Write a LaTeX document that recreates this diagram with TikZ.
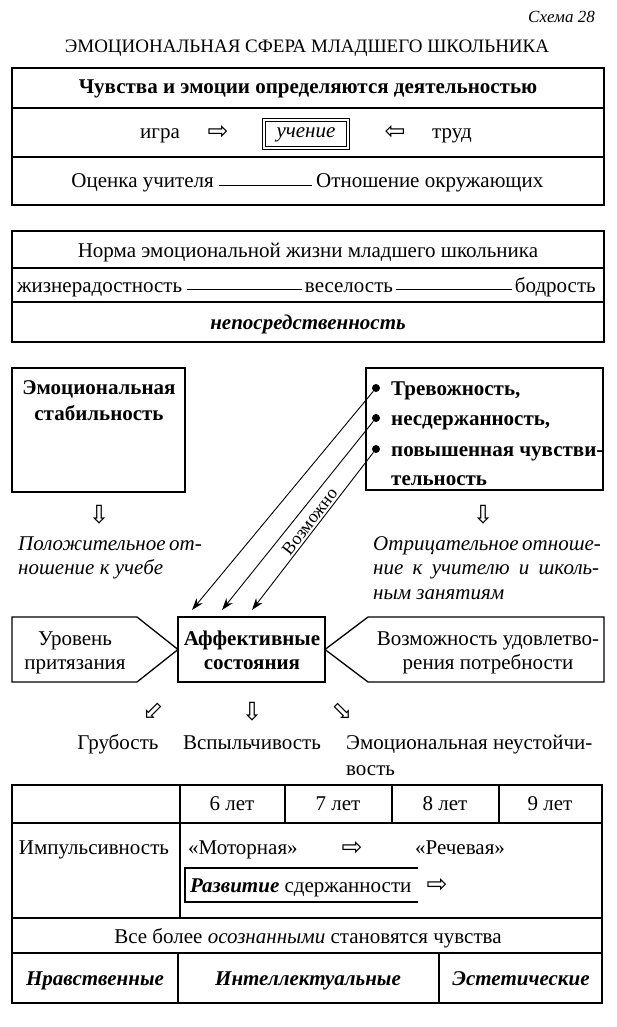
\documentclass[tikz,border=0pt]{standalone}
\usepackage{fontspec}
\setmainfont{Liberation Serif}
\newfontfamily\symfont{DejaVu Sans}
\usetikzlibrary{arrows.meta}
\begin{document}
\begin{tikzpicture}[x=1pt,y=-1pt,
  t/.style={inner sep=0pt, font=\fontsize{21}{24}\selectfont},
  tb/.style={inner sep=0pt, font=\fontsize{21}{24}\selectfont\bfseries},
  tbi/.style={inner sep=0pt, font=\fontsize{21}{24}\selectfont\bfseries\itshape},
  ti/.style={inner sep=0pt, font=\fontsize{21}{24}\selectfont\itshape},
  sym/.style={inner sep=0pt, font=\fontsize{25}{25}\symfont},
  frame/.style={draw, line width=1.3pt},
  rule/.style={line width=0.9pt},
  dot/.style={circle, fill, inner sep=0pt, minimum size=8pt},
  conn/.style={line width=0.9pt, -{Stealth[length=12pt,width=8pt]}}
]
\path[use as bounding box] (0,0) rectangle (617,1027);

% header
\node[anchor=base east, inner sep=0pt, font=\fontsize{17}{17}\selectfont\itshape] (scheme) at (595,23) {Схема 28};
\node[anchor=base, inner sep=0pt, font=\fontsize{19}{20}\selectfont] (title) at (307,53) {ЭМОЦИОНАЛЬНАЯ СФЕРА МЛАДШЕГО ШКОЛЬНИКА};

% box 1
\draw[frame] (12,68) rectangle (604,205);
\draw[frame] (12,108) -- (604,108);
\draw[frame] (12,157) -- (604,157);
\node[tb, anchor=base] (feel) at (308,94) {Чувства и эмоции определяются деятельностью};
\node[t, anchor=base] (igra) at (160,139) {игра};
\node[sym] (ar1) at (218,132) {⇨};
\node[ti, draw, double, double distance=2pt, line width=0.8pt, minimum width=84pt, minimum height=28pt, text height=11pt, text depth=3pt] (uch) at (306,134) {учение};
\node[sym] (ar2) at (395,132) {⇦};
\node[t, anchor=base] (trud) at (452,139) {труд};
\node[t, anchor=base east] (ocen) at (214,188) {Оценка учителя};
\node[t, anchor=base west] (otn) at (316,188) {Отношение окружающих};
\draw[rule] ([xshift=5pt]ocen.mid east) -- ([xshift=-4pt]otn.mid west);

% box 2
\draw[frame] (12,231) rectangle (604,342);
\draw[frame] (12,268) -- (604,268);
\draw[frame] (12,302) -- (604,302);
\node[t, anchor=base] (norma) at (308,257) {Норма эмоциональной жизни младшего школьника};
\node[t, anchor=base west] (zhiz) at (17,292) {жизнерадостность};
\node[t, anchor=base] (vesel) at (349,292) {веселость};
\node[t, anchor=base east] (bodr) at (596,292) {бодрость};
\draw[rule] ([xshift=5pt]zhiz.mid east) -- ([xshift=-3pt]vesel.mid west);
\draw[rule] ([xshift=3pt]vesel.mid east) -- ([xshift=-3pt]bodr.mid west);
\node[tbi, anchor=base] (nepo) at (308,329) {непосредственность};

% left / right boxes
\draw[frame] (12,368) rectangle (185,492);
\node[tb, anchor=base] (emo1) at (99,394) {Эмоциональная};
\node[tb, anchor=base] (emo2) at (99,420) {стабильность};

\draw[frame] (366,368) rectangle (603,490);
\node[dot] (b1) at (376,388) {};
\node[dot] (b2) at (376,418) {};
\node[dot] (b3) at (376,449) {};
\node[tb, anchor=base west] (tr1) at (391,395) {Тревожность,};
\node[tb, anchor=base west] (tr2) at (391,425) {несдержанность,};
\node[tb, anchor=base west] (tr3) at (391,456) {повышенная чувстви-};
\node[tb, anchor=base west] (tr4) at (391,485) {тельность};

\node[sym] (d1) at (99,515) {⇩};
\node[sym] (d2) at (483,515) {⇩};

\node[ti, anchor=base west] (pol1) at (18,550) {\makebox[143pt][s]{Положительное от-}};
\node[ti, anchor=base west] (pol2) at (18,574) {ношение к учебе};
\node[ti, anchor=base west] (otr1) at (373,550) {\makebox[226pt][s]{Отрицательное отноше-}};
\node[ti, anchor=base west] (otr2) at (373,574) {\makebox[226pt][s]{ние к учителю и школь-}};
\node[ti, anchor=base west] (otr3) at (373,599) {ным занятиям};

% connectors
\coordinate (t1) at (192,610);
\coordinate (t2) at (222,610);
\coordinate (t3) at (252,610);
\draw[conn] (b1) -- (t1);
\draw[conn] (b2) -- (t2);
\draw[conn] (b3) -- node[sloped, above, pos=0.47, inner sep=2pt, font=\fontsize{18}{18}\selectfont] (voz) {Возможно} (t3);

% affective row
\draw[frame] (12,617) -- (137,617) -- (178,649.5) -- (137,682) -- (12,682) -- cycle;
\draw[frame] (178,617) rectangle (325,682);
\draw[frame] (325,649.5) -- (368,617) -- (604,617) -- (604,682) -- (368,682) -- cycle;
\node[t, anchor=base] (ur1) at (75,645) {Уровень};
\node[t, anchor=base] (ur2) at (75,669) {притязания};
\node[tb, anchor=base] (af1) at (252,645) {Аффективные};
\node[tb, anchor=base] (af2) at (252,669) {состояния};
\node[t, anchor=base] (vz1) at (488,645) {Возможность удовлетво-};
\node[t, anchor=base] (vz2) at (488,669) {рения потребности};

\node[sym, rotate=-45] (s1) at (153,712) {⇩};
\node[sym] (s2) at (252,712) {⇩};
\node[sym, rotate=45] (s3) at (343,712) {⇩};
\node[t, anchor=base] (grub) at (118,749) {Грубость};
\node[t, anchor=base] (vsp) at (252,749) {Вспыльчивость};
\node[t, anchor=base west] (emn1) at (346,749) {Эмоциональная неустойчи-};
\node[t, anchor=base west] (emn2) at (346,775) {вость};

% table
\draw[frame] (12,785) rectangle (602,1003);
\draw[frame] (12,823) -- (602,823);
\draw[frame] (12,918) -- (602,918);
\draw[frame] (12,953) -- (602,953);
\draw[frame] (180,785) -- (180,918);
\draw[frame] (285,785) -- (285,823);
\draw[frame] (392,785) -- (392,823);
\draw[frame] (499,785) -- (499,823);
\draw[frame] (178,953) -- (178,1003);
\draw[frame] (439,953) -- (439,1003);
\node[t, anchor=base] (y6) at (232,810) {6 лет};
\node[t, anchor=base] (y7) at (338,810) {7 лет};
\node[t, anchor=base] (y8) at (445,810) {8 лет};
\node[t, anchor=base] (y9) at (550,810) {9 лет};
\node[t, anchor=base] (imp) at (94,854) {Импульсивность};
\node[t, anchor=base west] (mot) at (188,854) {«Моторная»};
\node[sym] (ar3) at (352,848) {⇨};
\node[t, anchor=base west] (rech) at (415,854) {«Речевая»};
\draw[line width=1.6pt] (418,868) -- (185,868) -- (185,902) -- (418,902);
\node[t, anchor=base west] (razv) at (190,892) {\textbf{\textit{Развитие}} сдержанности};
\node[sym] (ar4) at (437,885) {⇨};
\node[t, anchor=base] (vse) at (308,943) {Все более \textit{осознанными} становятся чувства};
\node[tbi, anchor=base] (nrav) at (95,985) {Нравственные};
\node[tbi, anchor=base] (intel) at (308,985) {Интеллектуальные};
\node[tbi, anchor=base] (est) at (521,985) {Эстетические};
\end{tikzpicture}
\end{document}
